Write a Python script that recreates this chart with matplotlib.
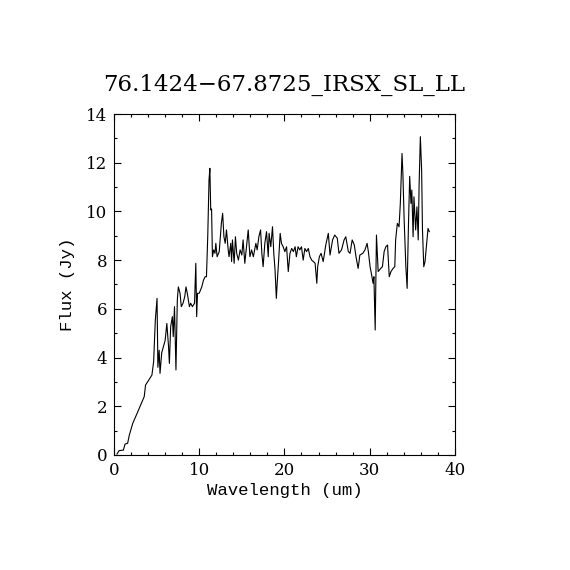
import matplotlib
matplotlib.use('Agg')
import matplotlib.pyplot as plt
from matplotlib.ticker import MultipleLocator

# spectrum
wavelength = [0.35, 0.6, 1.1, 1.3, 1.6, 1.8, 2.2, 2.7, 3.55, 3.7, 4.45, 4.65,
              4.85, 5.05, 5.15, 5.3, 5.4, 5.6, 5.8, 6.0, 6.2, 6.4, 6.5, 6.65,
              6.85, 6.95, 7.1, 7.15, 7.27, 7.43, 7.55, 7.75, 7.9, 8.1, 8.3,
              8.45, 8.6, 8.85, 9.0, 9.2, 9.45, 9.6, 9.7, 9.8, 10.0, 10.15, 10.3,
              10.5, 10.7, 10.85, 11.0, 11.15, 11.25, 11.35, 11.45, 11.55, 11.7,
              11.85, 11.95, 12.1, 12.35, 12.6, 12.75, 12.9, 13.05, 13.2, 13.4,
              13.5, 13.7, 13.8, 13.9, 14.1, 14.25, 14.4, 14.6, 14.8, 15.0,
              15.15, 15.35, 15.55, 15.75, 15.95, 16.15, 16.35, 16.65, 16.8,
              17.0, 17.2, 17.35, 17.5, 17.7, 17.9, 18.1, 18.2, 18.4, 18.6,
              18.75, 18.9, 19.05, 19.15, 19.3, 19.5, 19.65, 19.85, 20.05,
              20.25, 20.45, 20.65, 20.85, 21.05, 21.25, 21.4, 21.6, 21.8, 22.0,
              22.2, 22.4, 22.6, 22.8, 23.0, 23.2, 23.4, 23.6, 23.8, 23.9, 24.1,
              24.3, 24.55, 24.85, 25.15, 25.35, 25.65, 25.9, 26.2, 26.4, 26.7,
              27.0, 27.2, 27.5, 27.7, 27.95, 28.2, 28.4, 28.65, 28.85, 29.2,
              29.45, 29.7, 29.85, 30.05, 30.2, 30.4, 30.5, 30.65, 30.8, 31.0,
              31.3, 31.5, 31.7, 31.9, 32.1, 32.3, 32.5, 32.75, 32.95, 33.05,
              33.25, 33.45, 33.6, 33.8, 33.9, 34.05, 34.25, 34.4, 34.55, 34.7,
              34.85, 34.95, 35.1, 35.2, 35.4, 35.55, 35.7, 35.8, 35.95, 36.1,
              36.2, 36.35, 36.5, 36.7, 36.85, 37.0]
flux = [0.04, 0.18, 0.2, 0.45, 0.48, 0.82, 1.3, 1.7, 2.4, 2.87, 3.28, 3.83,
        5.54, 6.43, 3.6, 4.3, 3.35, 4.2, 4.45, 4.7, 5.4, 4.45, 3.76, 5.27,
        5.68, 4.86, 6.09, 5.27, 3.49, 6.36, 6.9, 6.64, 6.09, 6.23, 6.5,
        6.9, 6.64, 6.09, 6.23, 6.09, 6.23, 7.87, 5.68, 6.64, 6.64, 6.77, 6.9,
        7.18, 7.32, 7.32, 8.96, 11.29, 11.77, 10.06, 10.1, 8.14, 8.42,
        8.28, 8.69, 8.14, 8.35, 9.51, 9.92, 8.96, 8.69, 9.24, 8.42,
        8.14, 8.69, 7.94, 8.83, 7.87, 8.96, 8.28, 8.0, 8.42, 8.21,
        8.83, 7.87, 8.55, 9.24, 8.14, 8.42, 8.14, 8.69, 8.42,
        8.96, 9.24, 8.28, 7.73, 8.69, 9.17, 8.14, 9.1, 8.55, 9.37,
        8.28, 7.59, 6.43, 7.05, 7.87, 9.1, 8.69, 8.55, 8.35,
        8.55, 7.53, 8.28, 8.48, 8.35, 8.55, 8.14, 8.55, 8.42, 8.55,
        8.0, 8.48, 8.35, 8.48, 8.14, 8.0, 7.94, 7.87, 7.05, 7.73, 8.14,
        8.28, 7.94, 8.62, 9.1, 8.21, 8.83, 9.03, 8.9, 8.28, 8.42,
        8.83, 8.96, 8.35, 8.28, 8.83, 8.62, 8.14, 7.66, 8.21, 8.28,
        8.42, 8.69, 8.35, 7.73, 7.46, 7.05, 7.32, 5.13, 9.03, 7.53,
        7.66, 7.73, 8.35, 8.55, 8.62, 7.32, 7.53, 7.66, 7.73, 8.83,
        9.51, 9.37, 10.33, 12.38, 11.56, 9.65, 7.73, 6.84, 9.37, 11.44,
        10.33, 10.88, 8.96, 10.6, 9.24, 10.19, 8.83, 11.02, 13.07, 11.7,
        9.24, 7.73, 7.94, 8.69, 9.3, 9.17]

title = '76.1424\u221267.8725_IRSX_SL_LL'

plt.rcParams['font.family'] = ['DejaVu Serif']

fig = plt.figure(figsize=(5.7, 5.7), dpi=100)
ax = fig.add_axes([0.2, 0.2018, 0.598, 0.5982])

ax.plot(wavelength, flux, color='black', linewidth=0.8)

ax.set_xlim(0, 40)
ax.set_ylim(0, 14)
ax.xaxis.set_major_locator(MultipleLocator(10))
ax.xaxis.set_minor_locator(MultipleLocator(2))
ax.yaxis.set_major_locator(MultipleLocator(2))
ax.yaxis.set_minor_locator(MultipleLocator(1))
ax.tick_params(which='both', direction='in', top=True, right=True,
               labelsize=12, width=0.8)
ax.tick_params(which='major', length=5, pad=5)
ax.tick_params(which='minor', length=2.5)
for s in ax.spines.values():
    s.set_linewidth(0.8)

ax.set_xlabel('Wavelength (um)', fontsize=12.5, family='Liberation Mono',
              labelpad=3)
ax.set_ylabel('Flux (Jy)', fontsize=12.5, family='Liberation Mono',
              labelpad=8)
ax.set_title(title, fontsize=16.5, pad=17)

fig.savefig('out.png', dpi=100)
